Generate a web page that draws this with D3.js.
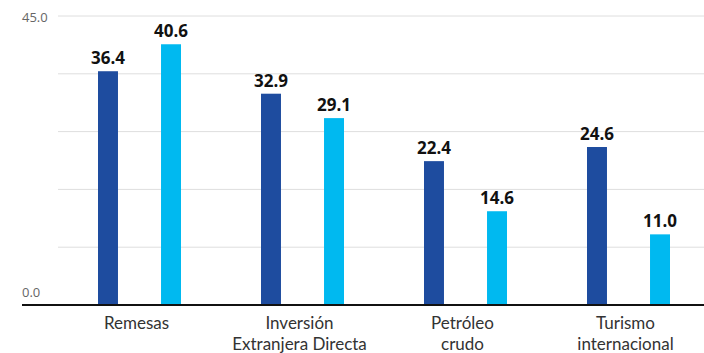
<!DOCTYPE html>
<html>
<head>
<meta charset="utf-8">
<script src="https://cdn.jsdelivr.net/npm/d3@7"></script>
<style>
	body { margin: 0; background: #fff; }
	svg { display: block; }
</style>
</head>
<body>
<script>
// Datos del gráfico
var categorias = [['Remesas'], ['Inversión', 'Extranjera Directa'], ['Petróleo', 'crudo'], ['Turismo', 'internacional']];
var serieA = [36.4, 32.9, 22.4, 24.6]; // azul oscuro
var serieB = [40.6, 29.1, 14.6, 11.0]; // azul claro
var series = ['a', 'b'];
var gridTicks = [0, 9, 18, 27, 36, 45];
var tickLabels = [45, 0];

var width = 704,
		height = 353,
		colores = { a: '#1e4c9f', b: '#00b9f0' };

var svg = d3.select('body')
	.append('svg')
	.attr('width', width)
	.attr('height', height);

var y = d3.scaleLinear().domain([0, 45]).range([305, 16]);

var x = d3.scaleBand()
	.domain(d3.range(categorias.length))
	.range([58, 710])
	.padding(0);

var xs = d3.scaleBand()
	.domain(series)
	.range([40, 123])
	.paddingInner(0.683)
	.paddingOuter(0);

// líneas de la cuadrícula
svg.append('g')
	.selectAll('line')
	.data(gridTicks.filter(function(d) { return d > 0; }))
	.enter()
	.append('line')
	.attr('x1', 58)
	.attr('x2', width)
	.attr('y1', function(d) { return y(d); })
	.attr('y2', function(d) { return y(d); })
	.attr('stroke', '#dedede')
	.attr('stroke-width', 1);

// etiquetas del eje Y
svg.append('g')
	.selectAll('text')
	.data(tickLabels)
	.enter()
	.append('text')
	.attr('x', 22)
	.attr('y', function(d) { return d === 0 ? y(d) - 8 : y(d) + 6; })
	.attr('font-family', 'Open Sans, sans-serif')
	.attr('font-size', 13)
	.attr('fill', '#666')
	.text(function(d) { return d3.format('.1f')(d); });

// barras
var datos = [];
categorias.forEach(function(c, i) {
	datos.push({ i: i, s: 'a', v: serieA[i] });
	datos.push({ i: i, s: 'b', v: serieB[i] });
});

var grupos = svg.append('g')
	.selectAll('g')
	.data(datos)
	.enter()
	.append('g');

grupos.append('rect')
	.attr('x', function(d) { return x(d.i) + xs(d.s); })
	.attr('y', function(d) { return y(d.v); })
	.attr('width', xs.bandwidth())
	.attr('height', function(d) { return y(0) - y(d.v); })
	.attr('fill', function(d) { return colores[d.s]; });

grupos.append('text')
	.attr('x', function(d) { return x(d.i) + xs(d.s) + xs.bandwidth() / 2; })
	.attr('y', function(d) { return y(d.v) - 7; })
	.attr('text-anchor', 'middle')
	.attr('font-family', 'Open Sans, sans-serif')
	.attr('font-weight', 'bold')
	.attr('font-size', 17)
	.attr('fill', '#111')
	.text(function(d) { return d3.format('.1f')(d.v); });

// eje X
svg.append('line')
	.attr('x1', 22)
	.attr('x2', width)
	.attr('y1', y(0))
	.attr('y2', y(0))
	.attr('stroke', '#111')
	.attr('stroke-width', 2);

// etiquetas de categorías (una línea = un texto)
var lineas = [];
categorias.forEach(function(c, i) {
	c.forEach(function(t, j) { lineas.push({ i: i, j: j, t: t }); });
});

svg.append('g')
	.selectAll('text')
	.data(lineas)
	.enter()
	.append('text')
	.attr('x', function(d) { return x(d.i) + x.bandwidth() / 2 - 3; })
	.attr('y', function(d) { return 329 + d.j * 21; })
	.attr('text-anchor', 'middle')
	.attr('font-family', 'Lato, sans-serif')
	.attr('font-size', 17)
	.attr('fill', '#333')
	.text(function(d) { return d.t; });
</script>
</body>
</html>
